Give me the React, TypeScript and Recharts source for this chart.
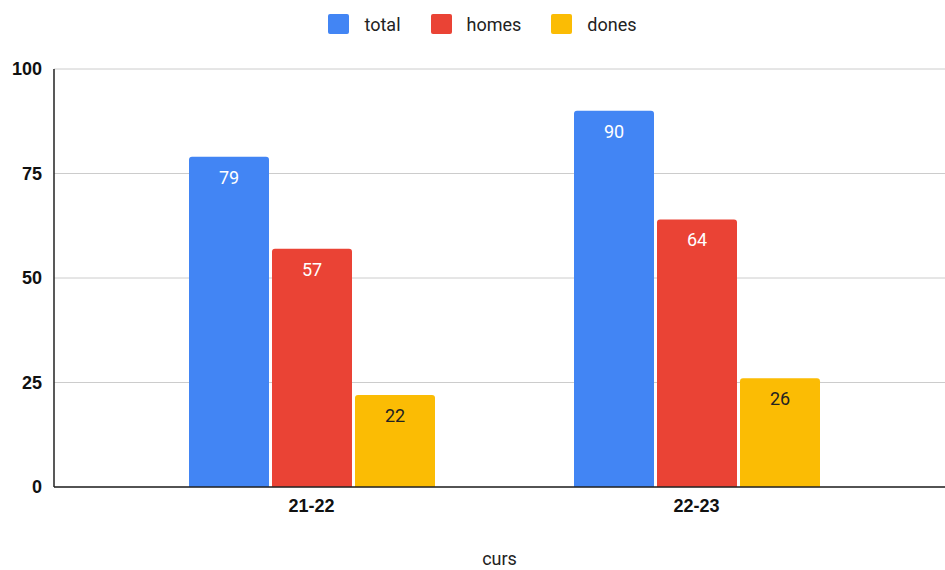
import React from 'react';
import { BarChart, Bar, XAxis, YAxis, CartesianGrid, Legend, LabelList } from 'recharts';

const categories = ['21-22', '22-23'];
const totalValues = [79, 90];
const homesValues = [57, 64];
const donesValues = [22, 26];
const yTicks = [0, 25, 50, 75, 100];

const seriesInfo = [
  { key: 'total', name: 'total', color: '#4285F4', labelColor: '#ffffff' },
  { key: 'homes', name: 'homes', color: '#EA4335', labelColor: '#ffffff' },
  { key: 'dones', name: 'dones', color: '#FBBC04', labelColor: '#222222' },
];

const data = categories.map((c, i) => ({
  curs: c,
  total: totalValues[i],
  homes: homesValues[i],
  dones: donesValues[i],
}));

const LegendContent = () => (
  <div
    style={{
      display: 'flex',
      justifyContent: 'center',
      alignItems: 'center',
      height: 48,
      fontFamily: 'Roboto, Arial, sans-serif',
      fontSize: 18,
      color: '#222',
      paddingLeft: 20,
      boxSizing: 'border-box',
    }}
  >
    {seriesInfo.map((s, i) => (
      <div key={s.key} style={{ display: 'flex', alignItems: 'center', marginLeft: i === 0 ? 0 : 30 }}>
        <div style={{ width: 21, height: 20, background: s.color, borderRadius: 2, marginRight: 15 }} />
        <span>{s.name}</span>
      </div>
    ))}
  </div>
);

export default function App() {
  return (
    <div style={{ position: 'absolute', left: 0, top: 0, width: 945, height: 570, background: '#fff' }}>
      <BarChart
        width={945}
        height={570}
        data={data}
        margin={{ top: 21, right: 0, bottom: 0, left: 0 }}
        barGap={3}
        barSize={80}
      >
        <Legend verticalAlign="top" align="center" content={<LegendContent />} wrapperStyle={{ top: 0 }} />
        <CartesianGrid vertical={false} stroke="#cccccc" strokeWidth={1} />
        <XAxis
          dataKey="curs"
          height={83}
          padding={{ left: 65, right: 56 }}
          axisLine={{ stroke: '#222', strokeWidth: 1.5 }}
          tickLine={false}
          tickSize={6}
          tickMargin={6}
          tick={{ fill: '#111', fontSize: 18, fontWeight: 'bold', fontFamily: '"Liberation Sans", Arial, sans-serif' }}
          label={{
            value: 'curs',
            position: 'insideBottom',
            offset: 5,
            fill: '#222',
            fontSize: 18,
            fontFamily: 'Roboto, Arial, sans-serif',
          }}
        />
        <YAxis
          width={54}
          domain={[0, 100]}
          ticks={yTicks}
          axisLine={{ stroke: '#222', strokeWidth: 1.5 }}
          tickLine={false}
          tickSize={6}
          tickMargin={6}
          tick={{ fill: '#111', fontSize: 18, fontWeight: 'bold', fontFamily: '"Liberation Sans", Arial, sans-serif' }}
        />
        {seriesInfo.map((s) => (
          <Bar key={s.key} dataKey={s.key} name={s.name} fill={s.color} radius={[3, 3, 0, 0]} isAnimationActive={false}>
            <LabelList
              dataKey={s.key}
              position="insideTop"
              offset={14}
              fill={s.labelColor}
              fontSize={18}
              fontFamily="Roboto, Arial, sans-serif"
            />
          </Bar>
        ))}
      </BarChart>
    </div>
  );
}
